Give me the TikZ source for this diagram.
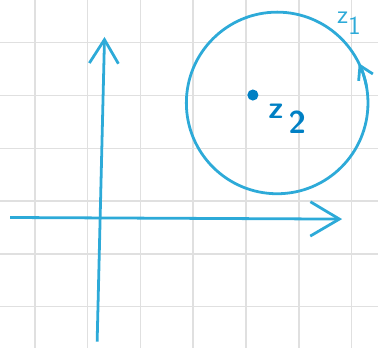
\documentclass[tikz,border=0pt]{standalone}
\usetikzlibrary{arrows.meta}
\definecolor{penblue}{RGB}{45,170,216}
\definecolor{inkblue}{RGB}{0,128,196}
\definecolor{gridgray}{RGB}{224,224,224}

\begin{document}
\begin{tikzpicture}[every node/.style={font=\sffamily}, pen/.style={penblue, line width=1.5pt}]
	\useasboundingbox (-0.66,-0.78) rectangle (6.5,5.81);
	\foreach \x in {0,...,6} \draw[gridgray, line width=0.8pt] (\x,-0.78) -- (\x,5.81);
	\foreach \y in {0,...,5} \draw[gridgray, line width=0.8pt] (-0.66,\y) -- (6.5,\y);
	% axes
	\coordinate (xstart) at (-0.47,1.69);
	\coordinate (xend) at (5.82,1.66);
	\coordinate (ystart) at (1.18,-0.66);
	\coordinate (yend) at (1.32,5.11);
	\draw[pen, -{Straight Barb[length=5.5mm, width=6.5mm]}] (xstart) -- (xend);
	\draw[pen, -{Straight Barb[length=4.5mm, width=5.5mm]}] (ystart) -- (yend);
	% circle through z_1, centred at z_2
	\coordinate (c) at (4.59,3.86);
	\draw[pen] (c) circle (1.72);
	\draw[pen, -{Straight Barb[length=2.5mm, width=3mm]}] (c) ++(10:1.72) arc[start angle=10, end angle=26, radius=1.72];
	\node[circle, fill=inkblue, inner sep=0pt, minimum size=6pt] (z2dot) at (4.13,4.01) {};
	\node[inkblue, font=\sffamily\fontsize{17}{19}\selectfont\bfseries] (z2) at (4.78,3.56) {z\,\raisebox{-1.1ex}{2}};
	\node[penblue, font=\sffamily\fontsize{14}{16}\selectfont] (z1) at (5.95,5.37) {z\raisebox{-0.9ex}{1}};
\end{tikzpicture}
\end{document}
